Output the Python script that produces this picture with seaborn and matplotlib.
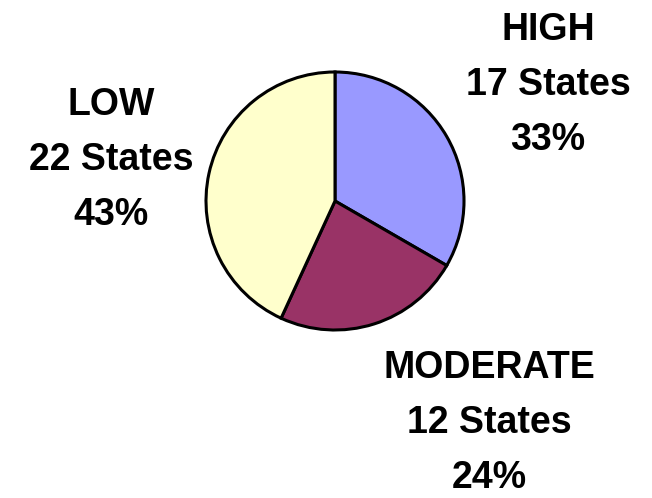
import matplotlib
matplotlib.use("Agg")
import matplotlib.pyplot as plt
import seaborn as sns

# data
categories = ["HIGH", "MODERATE", "LOW"]
states = [17, 12, 22]
percents = [33, 24, 43]
colors = ["#9999FF", "#993366", "#FFFFCC"]

sns.set_style("white")
plt.rcParams["font.family"] = ["Liberation Sans", "DejaVu Sans"]

W, H = 652, 498
fig = plt.figure(figsize=(W / 100, H / 100), dpi=100)

# pie centre ~ (335, 201) px, radius ~129 px
cx, cy, r = 335, 201, 129
ax = fig.add_axes([(cx - r) / W, (H - cy - r) / H, 2 * r / W, 2 * r / H])
ax.pie(states, colors=colors, startangle=90, counterclock=False,
       wedgeprops=dict(edgecolor="black", linewidth=2.2))
ax.set_xlim(-1, 1)
ax.set_ylim(-1, 1)
ax.set_aspect("auto")
ax.axis("off")

# label block centres (px): x, y of the middle line
label_pos = {"HIGH": (548, 85), "MODERATE": (489, 423), "LOW": (111, 160)}
for cat, n, p in zip(categories, states, percents):
    x, y = label_pos[cat]
    fig.text(x / W, 1 - y / H, f"{cat}\n{n} States\n{p}%",
             ha="center", va="center", fontsize=27, fontweight="bold",
             color="black", linespacing=1.68)

fig.savefig("out.png", dpi=100)
